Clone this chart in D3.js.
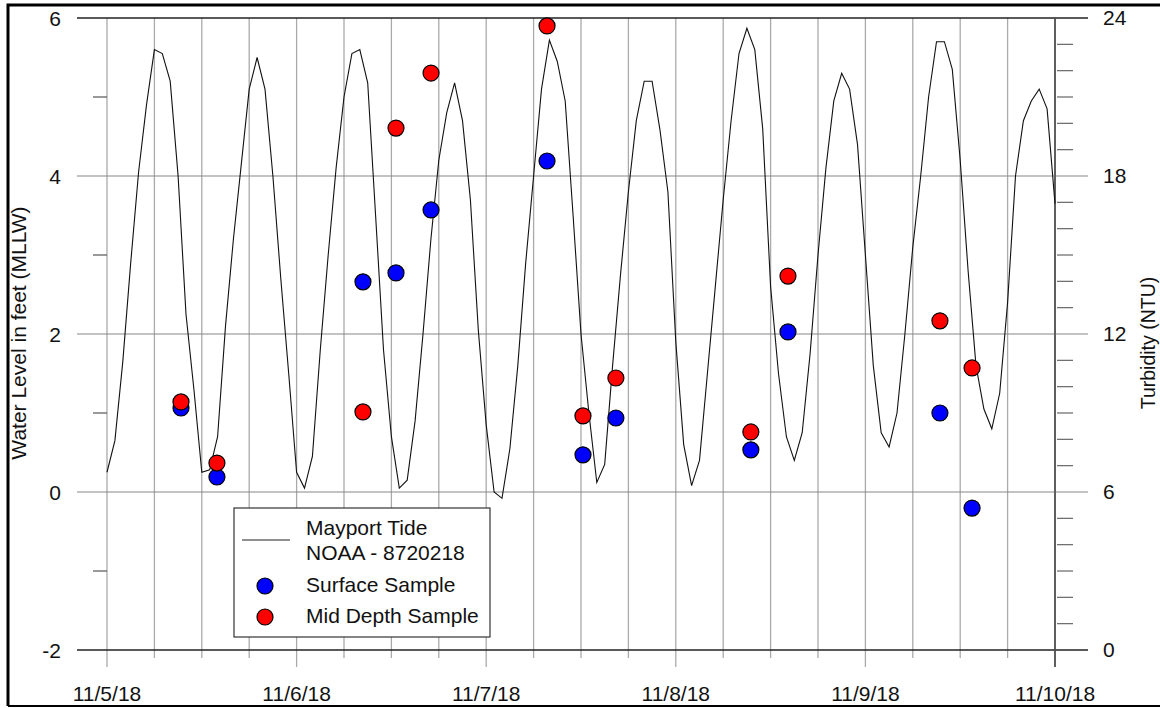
<!DOCTYPE html>
<html>
<head>
<meta charset="utf-8">
<script src="https://cdn.jsdelivr.net/npm/d3@7"></script>
<style>
  body { margin: 0; background: #fff; }
  text { font-family: "Liberation Sans", Arial, sans-serif; fill: #111; }
</style>
</head>
<body>
<svg id="chart" width="1160" height="708"></svg>
<script>
'use strict';

/* hourly tide (ft, MLLW) from 11/5/18 00:00, Mayport NOAA 8720218 */
const tideStart = '2018-11-05T00:00';
const tideFeet = [
  0.25, 0.65, 1.65, 2.9, 4.05, 4.9, 5.6, 5.55, 5.2, 4.0, 2.25, 1.3,     // 11/5
  0.25, 0.28, 0.7, 2.1, 3.2, 4.15, 5.1, 5.5, 5.1, 4.0, 2.7, 1.5,
  0.25, 0.05, 0.45, 1.8, 3.0, 4.1, 5.0, 5.55, 5.6, 5.18, 3.5, 1.8,      // 11/6
  0.7, 0.05, 0.15, 0.9, 2.0, 3.2, 4.2, 4.8, 5.18, 4.7, 3.7, 2.05,
  0.85, 0.0, -0.08, 0.55, 1.6, 2.9, 4.0, 5.1, 5.72, 5.45, 4.95, 3.5,    // 11/7
  2.0, 1.0, 0.12, 0.35, 1.6, 2.75, 3.8, 4.7, 5.2, 5.2, 4.58, 3.8,
  1.9, 0.6, 0.08, 0.4, 1.5, 2.6, 3.7, 4.7, 5.55, 5.87, 5.6, 4.6,        // 11/8
  2.6, 1.5, 0.7, 0.4, 0.75, 1.75, 3.0, 4.1, 4.95, 5.3, 5.1, 4.4,
  3.0, 1.6, 0.75, 0.57, 1.0, 2.0, 3.1, 4.0, 5.0, 5.7, 5.7, 5.35,        // 11/9
  4.2, 2.8, 1.6, 1.05, 0.8, 1.25, 2.4, 4.0, 4.7, 4.95, 5.1, 4.85,
  3.65                                                                    // 11/10
];

/* turbidity samples (NTU) */
const sampleTimes = [
  '2018-11-05T09:22', '2018-11-05T13:55', '2018-11-06T08:24', '2018-11-06T12:35',
  '2018-11-06T17:01', '2018-11-07T07:42', '2018-11-07T12:15', '2018-11-07T16:25',
  '2018-11-08T09:30', '2018-11-08T14:12', '2018-11-09T09:26', '2018-11-09T13:30'
];
const surfaceNTU  = [9.19, 6.57, 13.98, 14.32, 16.71, 18.57, 7.41, 8.81, 7.6, 12.08, 9.0, 5.39];
const midDepthNTU = [9.42, 7.10, 9.04, 19.82, 21.91, 23.7, 8.89, 10.33, 8.28, 14.2, 12.5, 10.71];

/* axis ticks */
const leftTicks  = [-2, 0, 2, 4, 6];
const rightTicks = [0, 6, 12, 18, 24];
const dayTicks   = ['2018-11-05', '2018-11-06', '2018-11-07', '2018-11-08', '2018-11-09', '2018-11-10'];
const dayLabels  = ['11/5/18', '11/6/18', '11/7/18', '11/8/18', '11/9/18', '11/10/18'];

const parseT = d3.timeParse('%Y-%m-%dT%H:%M');
const parseD = d3.timeParse('%Y-%m-%d');

const svg = d3.select('#chart');

/* scales */
const x = d3.scaleTime()
  .domain([parseD(dayTicks[0]), parseD(dayTicks[dayTicks.length-1])])
  .range([107, 1055]);
const yL = d3.scaleLinear().domain([-2, 6]).range([650, 18]);
const yR = d3.scaleLinear().domain([0, 24]).range([650, 18]);

/* vertical grid every 6 hours, day lines run a bit lower as ticks */
const sixHours = d3.timeHour.every(6).range(x.domain()[0], d3.timeHour.offset(x.domain()[1], 1));
svg.append('g').selectAll('line')
  .data(sixHours)
  .join('line')
    .attr('x1', d => x(d)).attr('x2', d => x(d))
    .attr('y1', 18)
    .attr('y2', d => d.getHours() === 0 ? 667 : 658)
    .attr('stroke', (d, i) => i === sixHours.length-1 ? '#555' : '#aaa')
    .attr('stroke-width', (d, i) => i === sixHours.length-1 ? 1.5 : 1.3);

/* horizontal grid at left major ticks */
svg.append('g').selectAll('line')
  .data(leftTicks)
  .join('line')
    .attr('x1', 77).attr('x2', 1088)
    .attr('y1', d => yL(d)).attr('y2', d => yL(d))
    .attr('stroke', d => (d === 6 || d === -2) ? '#222' : '#888')
    .attr('stroke-width', d => (d === 6 || d === -2) ? 1.5 : 1.2);

/* left minor ticks */
svg.append('g').selectAll('line')
  .data(d3.range(-2, 7).filter(v => !leftTicks.includes(v)))
  .join('line')
    .attr('x1', 93).attr('x2', 107)
    .attr('y1', d => yL(d)).attr('y2', d => yL(d))
    .attr('stroke', '#555').attr('stroke-width', 1.2);

/* left tick labels */
svg.append('g').selectAll('text')
  .data(leftTicks)
  .join('text')
    .attr('x', 61).attr('y', d => yL(d) + 7.5)
    .attr('text-anchor', 'end')
    .style('font-size', '21px')
    .text(d => d);

/* right axis line, minor ticks and labels */
svg.append('line')
  .attr('x1', x.range()[1]).attr('x2', x.range()[1])
  .attr('y1', 18).attr('y2', 667)
  .attr('stroke', '#555').attr('stroke-width', 1.5);
svg.append('g').selectAll('line')
  .data(d3.range(0, 25).filter(v => !rightTicks.includes(v)))
  .join('line')
    .attr('x1', 1057).attr('x2', 1073)
    .attr('y1', d => yR(d)).attr('y2', d => yR(d))
    .attr('stroke', '#666').attr('stroke-width', 1.2);
svg.append('g').selectAll('text')
  .data(rightTicks)
  .join('text')
    .attr('x', 1103).attr('y', d => yR(d) + 7)
    .style('font-size', '21px')
    .text(d => d);

/* bottom date labels */
svg.append('g').selectAll('text')
  .data(dayTicks)
  .join('text')
    .attr('x', d => x(parseD(d))).attr('y', 701)
    .attr('text-anchor', 'middle')
    .style('font-size', '21px')
    .text((d, i) => dayLabels[i]);

/* axis titles */
svg.append('text')
  .attr('transform', 'translate(26,333) rotate(-90)')
  .attr('text-anchor', 'middle')
  .style('font-size', '21px')
  .text('Water Level in feet (MLLW)');
svg.append('text')
  .attr('transform', 'translate(1155,343) rotate(-90)')
  .attr('text-anchor', 'middle')
  .style('font-size', '19.5px')
  .text('Turbidity (NTU)');

/* tide line */
const t0 = parseT(tideStart);
const tide = tideFeet.map((v, i) => ({ t: d3.timeHour.offset(t0, i), v: v }));
svg.append('path')
  .datum(tide)
  .attr('fill', 'none')
  .attr('stroke', '#111')
  .attr('stroke-width', 1.1)
  .attr('d', d3.line().x(d => x(d.t)).y(d => yL(d.v)));

/* samples: surface first, mid depth on top */
const samples = sampleTimes.map((s, i) => ({ t: parseT(s), surf: surfaceNTU[i], mid: midDepthNTU[i] }));
svg.append('g').selectAll('circle')
  .data(samples)
  .join('circle')
    .attr('cx', d => x(d.t)).attr('cy', d => yR(d.surf))
    .attr('r', 8)
    .attr('fill', '#0000ff').attr('stroke', '#000').attr('stroke-width', 1.2);
svg.append('g').selectAll('circle')
  .data(samples)
  .join('circle')
    .attr('cx', d => x(d.t)).attr('cy', d => yR(d.mid))
    .attr('r', 8)
    .attr('fill', '#ff0000').attr('stroke', '#000').attr('stroke-width', 1.2);

/* legend */
const lg = svg.append('g').attr('transform', 'translate(234,508)');
lg.append('rect')
  .attr('width', 256).attr('height', 129)
  .attr('fill', '#fff').attr('stroke', '#333').attr('stroke-width', 1.2);
lg.append('line')
  .attr('x1', 8).attr('x2', 56).attr('y1', 32).attr('y2', 32)
  .attr('stroke', '#222').attr('stroke-width', 1.2);
lg.append('text').attr('x', 72).attr('y', 27).style('font-size', '21px').text('Mayport Tide');
lg.append('text').attr('x', 72).attr('y', 52).style('font-size', '21px').text('NOAA - 8720218');
lg.append('circle').attr('cx', 31).attr('cy', 78).attr('r', 8)
  .attr('fill', '#0000ff').attr('stroke', '#000').attr('stroke-width', 1.2);
lg.append('text').attr('x', 72).attr('y', 84).style('font-size', '21px').text('Surface Sample');
lg.append('circle').attr('cx', 31).attr('cy', 109).attr('r', 8)
  .attr('fill', '#ff0000').attr('stroke', '#000').attr('stroke-width', 1.2);
lg.append('text').attr('x', 72).attr('y', 115).style('font-size', '21px').text('Mid Depth Sample');

/* outer frame */
svg.append('path')
  .attr('d', 'M8,706 L8,5 L1160,5')
  .attr('fill', 'none').attr('stroke', '#000').attr('stroke-width', 3);
svg.append('line')
  .attr('x1', 8).attr('x2', 1160).attr('y1', 706).attr('y2', 706)
  .attr('stroke', '#000').attr('stroke-width', 2);
</script>
</body>
</html>
